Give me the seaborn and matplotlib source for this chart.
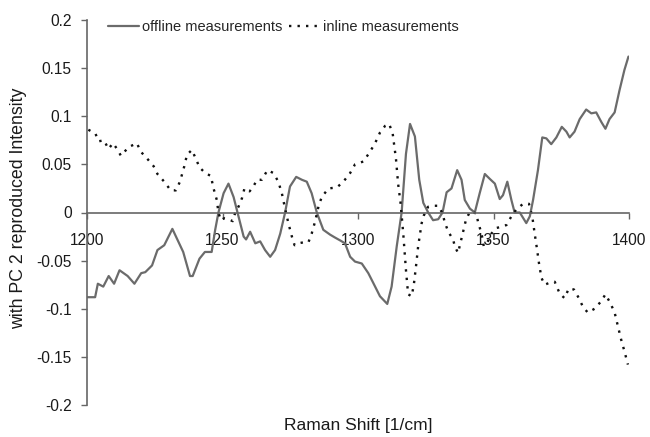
import numpy as np
import pandas as pd
import matplotlib
matplotlib.use("Agg")
import matplotlib.pyplot as plt
from matplotlib.ticker import FuncFormatter, MultipleLocator
import seaborn as sns

# ---- data ----
offline_shift = [1200, 1203, 1204, 1206, 1208, 1210, 1212, 1215, 1217.5, 1220, 1221.5,
                 1224, 1226, 1228.5, 1231.5, 1233.5, 1235.5, 1238, 1239, 1241.5, 1243.5,
                 1246, 1247.3, 1248.5, 1250.4, 1252.2, 1254.1, 1255.9, 1257.8, 1258.7,
                 1260.2, 1262.1, 1263.9, 1265.7, 1267.6, 1269.4, 1271.3, 1273.1, 1274.9,
                 1277.2, 1279.3, 1281.1, 1282.9, 1284.8, 1287.2, 1289.7, 1291.5, 1293.4,
                 1295.2, 1297.1, 1298.9, 1301.4, 1303.8, 1305.6, 1308.1, 1310.8, 1312.4,
                 1314.3, 1316.1, 1317.7, 1319.2, 1321.0, 1322.6, 1324.1, 1325.9, 1327.7,
                 1329.6, 1331.2, 1332.7, 1334.5, 1336.6, 1338.2, 1339.4, 1341.3, 1343.1,
                 1344.9, 1346.8, 1348.6, 1350.5, 1352.3, 1353.5, 1355.1, 1356.6, 1357.8,
                 1359.7, 1362.1, 1363.4, 1364.6, 1366.4, 1368.0, 1369.5, 1371.3, 1373.2,
                 1375.2, 1376.9, 1378.1, 1379.9, 1381.8, 1384.2, 1386.1, 1387.9, 1389.8,
                 1391.3, 1392.8, 1394.7, 1396.5, 1398.3, 1399.8]
offline_intensity = [-0.088, -0.088, -0.074, -0.077, -0.066, -0.074, -0.060, -0.066, -0.074,
                     -0.063, -0.062, -0.055, -0.039, -0.034, -0.017, -0.029, -0.041, -0.066,
                     -0.066, -0.048, -0.041, -0.041, -0.018, 0.000, 0.020, 0.030, 0.016,
                     -0.004, -0.025, -0.028, -0.020, -0.032, -0.030, -0.039, -0.046, -0.039,
                     -0.022, 0.000, 0.027, 0.037, 0.034, 0.032, 0.020, 0.000, -0.018, -0.023,
                     -0.026, -0.029, -0.032, -0.046, -0.051, -0.053, -0.063, -0.073, -0.087,
                     -0.095, -0.077, -0.035, 0.000, 0.061, 0.092, 0.079, 0.034, 0.010, 0.000,
                     -0.008, -0.007, 0.000, 0.021, 0.025, 0.044, 0.034, 0.013, 0.004, 0.000,
                     0.020, 0.040, 0.035, 0.030, 0.014, 0.018, 0.032, 0.013, 0.000, 0.000,
                     -0.011, -0.004, 0.013, 0.044, 0.078, 0.077, 0.071, 0.078, 0.089, 0.084,
                     0.078, 0.084, 0.097, 0.107, 0.103, 0.104, 0.094, 0.087, 0.097, 0.104,
                     0.127, 0.148, 0.162]

inline_shift = [1200.5, 1203.1, 1204.3, 1206.3, 1207.9, 1209.6, 1211.1, 1212.5, 1215.4, 1218.4,
                1219.9, 1221.9, 1224.6, 1226.0, 1228.5, 1230.9, 1232.8, 1234.3, 1235.9, 1236.9,
                1238.7, 1240.3, 1241.5, 1243.6, 1245.7, 1246.7, 1247.9, 1248.5, 1249.4, 1250.6,
                1252.1, 1253.8, 1254.7, 1255.9, 1257.2, 1258.1, 1260.0, 1261.4, 1262.7, 1264.5,
                1266.6, 1268.8, 1270.6, 1271.9, 1273.1, 1274.3, 1275.6, 1276.6, 1278.0, 1279.9,
                1281.7, 1282.9, 1284.2, 1285.4, 1286.6, 1289.1, 1292.2, 1294.6, 1297.1, 1298.9,
                1302.0, 1304.4, 1306.3, 1308.1, 1310.0, 1311.5, 1312.8, 1314.0, 1314.8, 1315.7,
                1316.7, 1317.7, 1318.5, 1319.8, 1320.6, 1321.4, 1322.2, 1323.5, 1324.3, 1325.9,
                1327.1, 1329.6, 1331.2, 1332.0, 1333.3, 1335.1, 1335.7, 1336.9, 1337.6, 1338.6,
                1339.8, 1341.3, 1343.7, 1344.3, 1345.6, 1346.4, 1347.6, 1349.2, 1351.1, 1352.9,
                1354.8, 1356.6, 1358.4, 1360.9, 1363.1, 1364.3, 1365.2, 1366.0, 1366.8, 1367.7,
                1368.9, 1370.7, 1372.6, 1374.4, 1376.2, 1377.8, 1379.7, 1381.5, 1383.0, 1384.8,
                1387.3, 1389.8, 1391.3, 1393.1, 1394.7, 1395.9, 1397.1, 1398.3, 1399.6]
inline_intensity = [0.086, 0.082, 0.074, 0.075, 0.066, 0.072, 0.066, 0.059, 0.068, 0.072,
                    0.063, 0.057, 0.048, 0.040, 0.032, 0.023, 0.023, 0.032, 0.048, 0.060,
                    0.065, 0.055, 0.047, 0.041, 0.038, 0.025, 0.013, 0.000, -0.008, -0.006,
                    -0.007, -0.009, 0.000, 0.006, 0.015, 0.025, 0.022, 0.027, 0.034, 0.034,
                    0.044, 0.041, 0.032, 0.020, 0.004, -0.011, -0.025, -0.034, -0.032, -0.031,
                    -0.031, -0.022, -0.009, 0.006, 0.016, 0.025, 0.026, 0.032, 0.041, 0.050,
                    0.053, 0.063, 0.072, 0.083, 0.090, 0.092, 0.082, 0.056, 0.030, 0.010,
                    -0.022, -0.060, -0.085, -0.087, -0.075, -0.056, -0.035, -0.011, -0.003, 0.006,
                    0.007, 0.007, -0.001, -0.010, -0.020, -0.028, -0.035, -0.042, -0.034, -0.022,
                    -0.008, 0.001, -0.001, -0.010, -0.022, -0.035, -0.032, -0.022, -0.016, -0.015,
                    -0.013, -0.004, 0.003, 0.009, 0.009, -0.004, -0.022, -0.037, -0.053, -0.068,
                    -0.075, -0.073, -0.072, -0.084, -0.089, -0.079, -0.080, -0.089, -0.098, -0.104,
                    -0.100, -0.092, -0.085, -0.094, -0.104, -0.118, -0.132, -0.144, -0.158]

series_labels = ["offline measurements", "inline measurements"]
x_ticks = [1200, 1250, 1300, 1350, 1400]
x_label = "Raman Shift [1/cm]"
y_label = "with PC 2 reproduced Intensity"

# ---- style ----
sns.set_theme(style="white")
plt.rcParams["font.family"] = ["Liberation Sans", "DejaVu Sans"]

fig = plt.figure(figsize=(6.5, 4.37), dpi=100)
ax = fig.add_axes([87 / 650, 1 - 405 / 437, (629 - 87) / 650, (405 - 20) / 437])

df_off = pd.DataFrame({"shift": offline_shift, "intensity": offline_intensity})
df_in = pd.DataFrame({"shift": inline_shift, "intensity": inline_intensity})

sns.lineplot(data=df_off, x="shift", y="intensity", ax=ax, color="#6b6b6b",
             linewidth=1.6, label=series_labels[0])
sns.lineplot(data=df_in, x="shift", y="intensity", ax=ax, color="#111111",
             linewidth=1.7, linestyle=(0, (1, 2.6)), label=series_labels[1])

ax.set_xlim(1200, 1400)
ax.set_ylim(-0.2, 0.2)
ax.set_xticks(x_ticks)
ax.yaxis.set_major_locator(MultipleLocator(0.05))


def yfmt(v, p):
    v = round(v, 3)
    if abs(v) < 1e-9:
        return "0"
    return f"{v:g}"


ax.yaxis.set_major_formatter(FuncFormatter(yfmt))

for s in ["top", "right"]:
    ax.spines[s].set_visible(False)
ax.spines["bottom"].set_position(("data", 0))
for s in ["left", "bottom"]:
    ax.spines[s].set_color("#666666")
    ax.spines[s].set_linewidth(1.2)

ax.tick_params(axis="x", direction="out", length=4, width=1, color="#666666",
               pad=11, labelsize=11.2, labelcolor="#1a1a1a", bottom=True)
ax.tick_params(axis="y", direction="out", length=4, width=1, color="#666666",
               pad=7, labelsize=11.2, labelcolor="#1a1a1a", left=True)

ax.set_xlabel(x_label, fontsize=12.5, color="#1a1a1a")
ax.xaxis.set_label_coords(0.5, -0.034)
ax.set_ylabel(y_label, fontsize=12.8, color="#1a1a1a")
ax.yaxis.set_label_coords(-0.111, 0.51)

ax.legend(loc="upper left", bbox_to_anchor=(108 / 650, 1 - 20 / 437),
          bbox_transform=fig.transFigure, ncol=2, frameon=False, fontsize=10.5,
          handlelength=2.1, handletextpad=0.2, columnspacing=0.5,
          borderpad=0, borderaxespad=0)

fig.savefig("out.png", dpi=100, facecolor="white")
